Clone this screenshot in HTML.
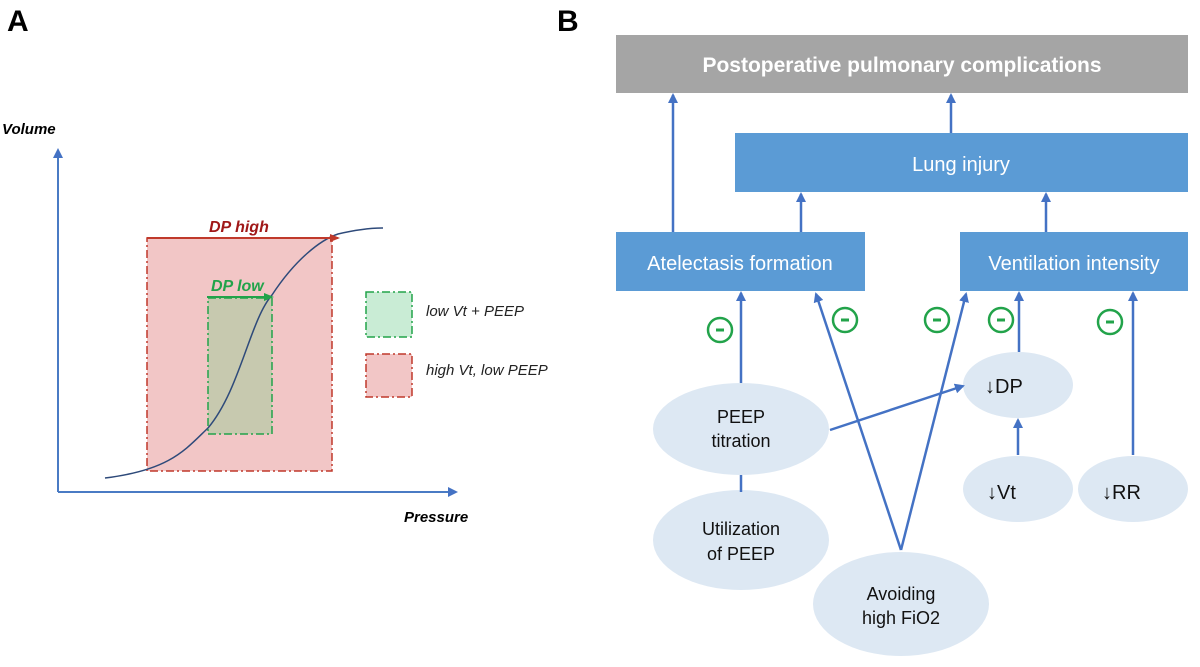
<!DOCTYPE html>
<html><head><meta charset="utf-8"><style>
html,body{margin:0;padding:0;background:#fff;}
svg{display:block;}
text{font-family:"Liberation Sans",sans-serif;}
</style></head><body>
<svg width="1200" height="667" viewBox="0 0 1200 667" xmlns="http://www.w3.org/2000/svg">
<defs>
<marker id="ab" markerWidth="10" markerHeight="10" refX="8" refY="5" orient="auto" markerUnits="userSpaceOnUse"><path d="M0,0 L10,5 L0,10 z" fill="#4472c4"/></marker>
<marker id="ar" markerWidth="10" markerHeight="8" refX="8" refY="4" orient="auto" markerUnits="userSpaceOnUse"><path d="M0,0 L10,4 L0,8 z" fill="#c0392b"/></marker>
<marker id="ag" markerWidth="10" markerHeight="8" refX="8" refY="4" orient="auto" markerUnits="userSpaceOnUse"><path d="M0,0 L10,4 L0,8 z" fill="#22a34a"/></marker>
</defs>
<!-- Panel A -->
<text x="7" y="31" font-size="30" font-weight="bold">A</text>
<text x="557" y="31" font-size="30" font-weight="bold">B</text>
<text x="2" y="134" font-size="15" font-weight="bold" font-style="italic">Volume</text>
<text x="404" y="522" font-size="15" font-weight="bold" font-style="italic">Pressure</text>
<line x1="58" y1="492" x2="58" y2="150" stroke="#4a7bc4" stroke-width="2" marker-end="url(#ab)"/>
<line x1="58" y1="492" x2="456" y2="492" stroke="#4a7bc4" stroke-width="2" marker-end="url(#ab)"/>
<rect x="147" y="238" width="185" height="233" fill="#f2c6c6" stroke="#c0392b" stroke-width="1.5" stroke-dasharray="8,3,2,3"/>
<rect x="208" y="298" width="64" height="136" fill="#c7c9af" stroke="#22a34a" stroke-width="1.5" stroke-dasharray="8,3,2,3"/>
<path d="M105,478 C170,470 185,450 208,428 C240,390 250,320 272,295 C295,260 320,240 338,234 C355,230 370,228 383,228" fill="none" stroke="#2e4a7a" stroke-width="1.5"/>
<line x1="147" y1="238" x2="338" y2="238" stroke="#c0392b" stroke-width="2" marker-end="url(#ar)"/>
<line x1="207" y1="297" x2="272" y2="297" stroke="#22a34a" stroke-width="2" marker-end="url(#ag)"/>
<text x="209" y="232" font-size="16" font-weight="bold" font-style="italic" fill="#a01818">DP high</text>
<text x="211" y="291" font-size="16" font-weight="bold" font-style="italic" fill="#22a34a">DP low</text>
<rect x="366" y="292" width="46" height="45" fill="#c9ecd5" stroke="#22a34a" stroke-width="1.5" stroke-dasharray="8,3,2,3"/>
<rect x="366" y="354" width="46" height="43" fill="#f2c6c6" stroke="#c0392b" stroke-width="1.5" stroke-dasharray="8,3,2,3"/>
<text x="426" y="316" font-size="15" font-style="italic" fill="#222">low Vt + PEEP</text>
<text x="426" y="375" font-size="15" font-style="italic" fill="#222">high Vt, low PEEP</text>
<!-- Panel B -->
<rect x="616" y="35" width="572" height="58" fill="#a5a5a5"/>
<text x="902" y="72" font-size="21" font-weight="bold" fill="#fff" text-anchor="middle">Postoperative pulmonary complications</text>
<rect x="735" y="133" width="453" height="59" fill="#5b9bd5"/>
<text x="961" y="171" font-size="20" fill="#fff" text-anchor="middle">Lung injury</text>
<rect x="616" y="232" width="249" height="59" fill="#5b9bd5"/>
<text x="740" y="270" font-size="20" fill="#fff" text-anchor="middle">Atelectasis formation</text>
<rect x="960" y="232" width="228" height="59" fill="#5b9bd5"/>
<text x="1074" y="270" font-size="20" fill="#fff" text-anchor="middle">Ventilation intensity</text>
<g stroke="#4472c4" stroke-width="2.5" fill="none">
<line x1="673" y1="232" x2="673" y2="95" marker-end="url(#ab)"/>
<line x1="801" y1="232" x2="801" y2="194" marker-end="url(#ab)"/>
<line x1="951" y1="133" x2="951" y2="95" marker-end="url(#ab)"/>
<line x1="1046" y1="232" x2="1046" y2="194" marker-end="url(#ab)"/>
</g>
<g fill="#dde8f3">
<ellipse cx="741" cy="429" rx="88" ry="46"/>
<ellipse cx="741" cy="540" rx="88" ry="50"/>
<ellipse cx="901" cy="604" rx="88" ry="52"/>
<ellipse cx="1018" cy="385" rx="55" ry="33"/>
<ellipse cx="1018" cy="489" rx="55" ry="33"/>
<ellipse cx="1133" cy="489" rx="55" ry="33"/>
</g>
<g stroke="#4472c4" stroke-width="2.5" fill="none">
<line x1="741" y1="383" x2="741" y2="293" marker-end="url(#ab)"/>
<line x1="741" y1="475" x2="741" y2="492"/>
<line x1="830" y1="430" x2="963" y2="386" marker-end="url(#ab)"/>
<line x1="901" y1="550" x2="816" y2="294" marker-end="url(#ab)"/>
<line x1="901" y1="550" x2="966" y2="294" marker-end="url(#ab)"/>
<line x1="1019" y1="352" x2="1019" y2="293" marker-end="url(#ab)"/>
<line x1="1018" y1="455" x2="1018" y2="420" marker-end="url(#ab)"/>
<line x1="1133" y1="455" x2="1133" y2="293" marker-end="url(#ab)"/>
</g>
<g stroke="#22a34a" stroke-width="2.5" fill="none">
<circle cx="720" cy="330" r="12"/><circle cx="845" cy="320" r="12"/><circle cx="937" cy="320" r="12"/><circle cx="1001" cy="320" r="12"/><circle cx="1110" cy="322" r="12"/>
</g>
<g stroke="#22a34a" stroke-width="3">
<line x1="716" y1="330" x2="724" y2="330"/><line x1="841" y1="320" x2="849" y2="320"/><line x1="933" y1="320" x2="941" y2="320"/><line x1="997" y1="320" x2="1005" y2="320"/><line x1="1106" y1="322" x2="1114" y2="322"/>
</g>
<g font-size="18" fill="#111" text-anchor="middle">
<text x="741" y="423">PEEP</text><text x="741" y="447">titration</text>
<text x="741" y="535">Utilization</text><text x="741" y="560">of PEEP</text>
<text x="901" y="600">Avoiding</text><text x="901" y="624">high FiO2</text>
</g>
<g font-size="20" fill="#111">
<text x="985" y="393">↓DP</text>
<text x="987" y="499">↓Vt</text>
<text x="1102" y="499">↓RR</text>
</g>
</svg>
</body></html>
